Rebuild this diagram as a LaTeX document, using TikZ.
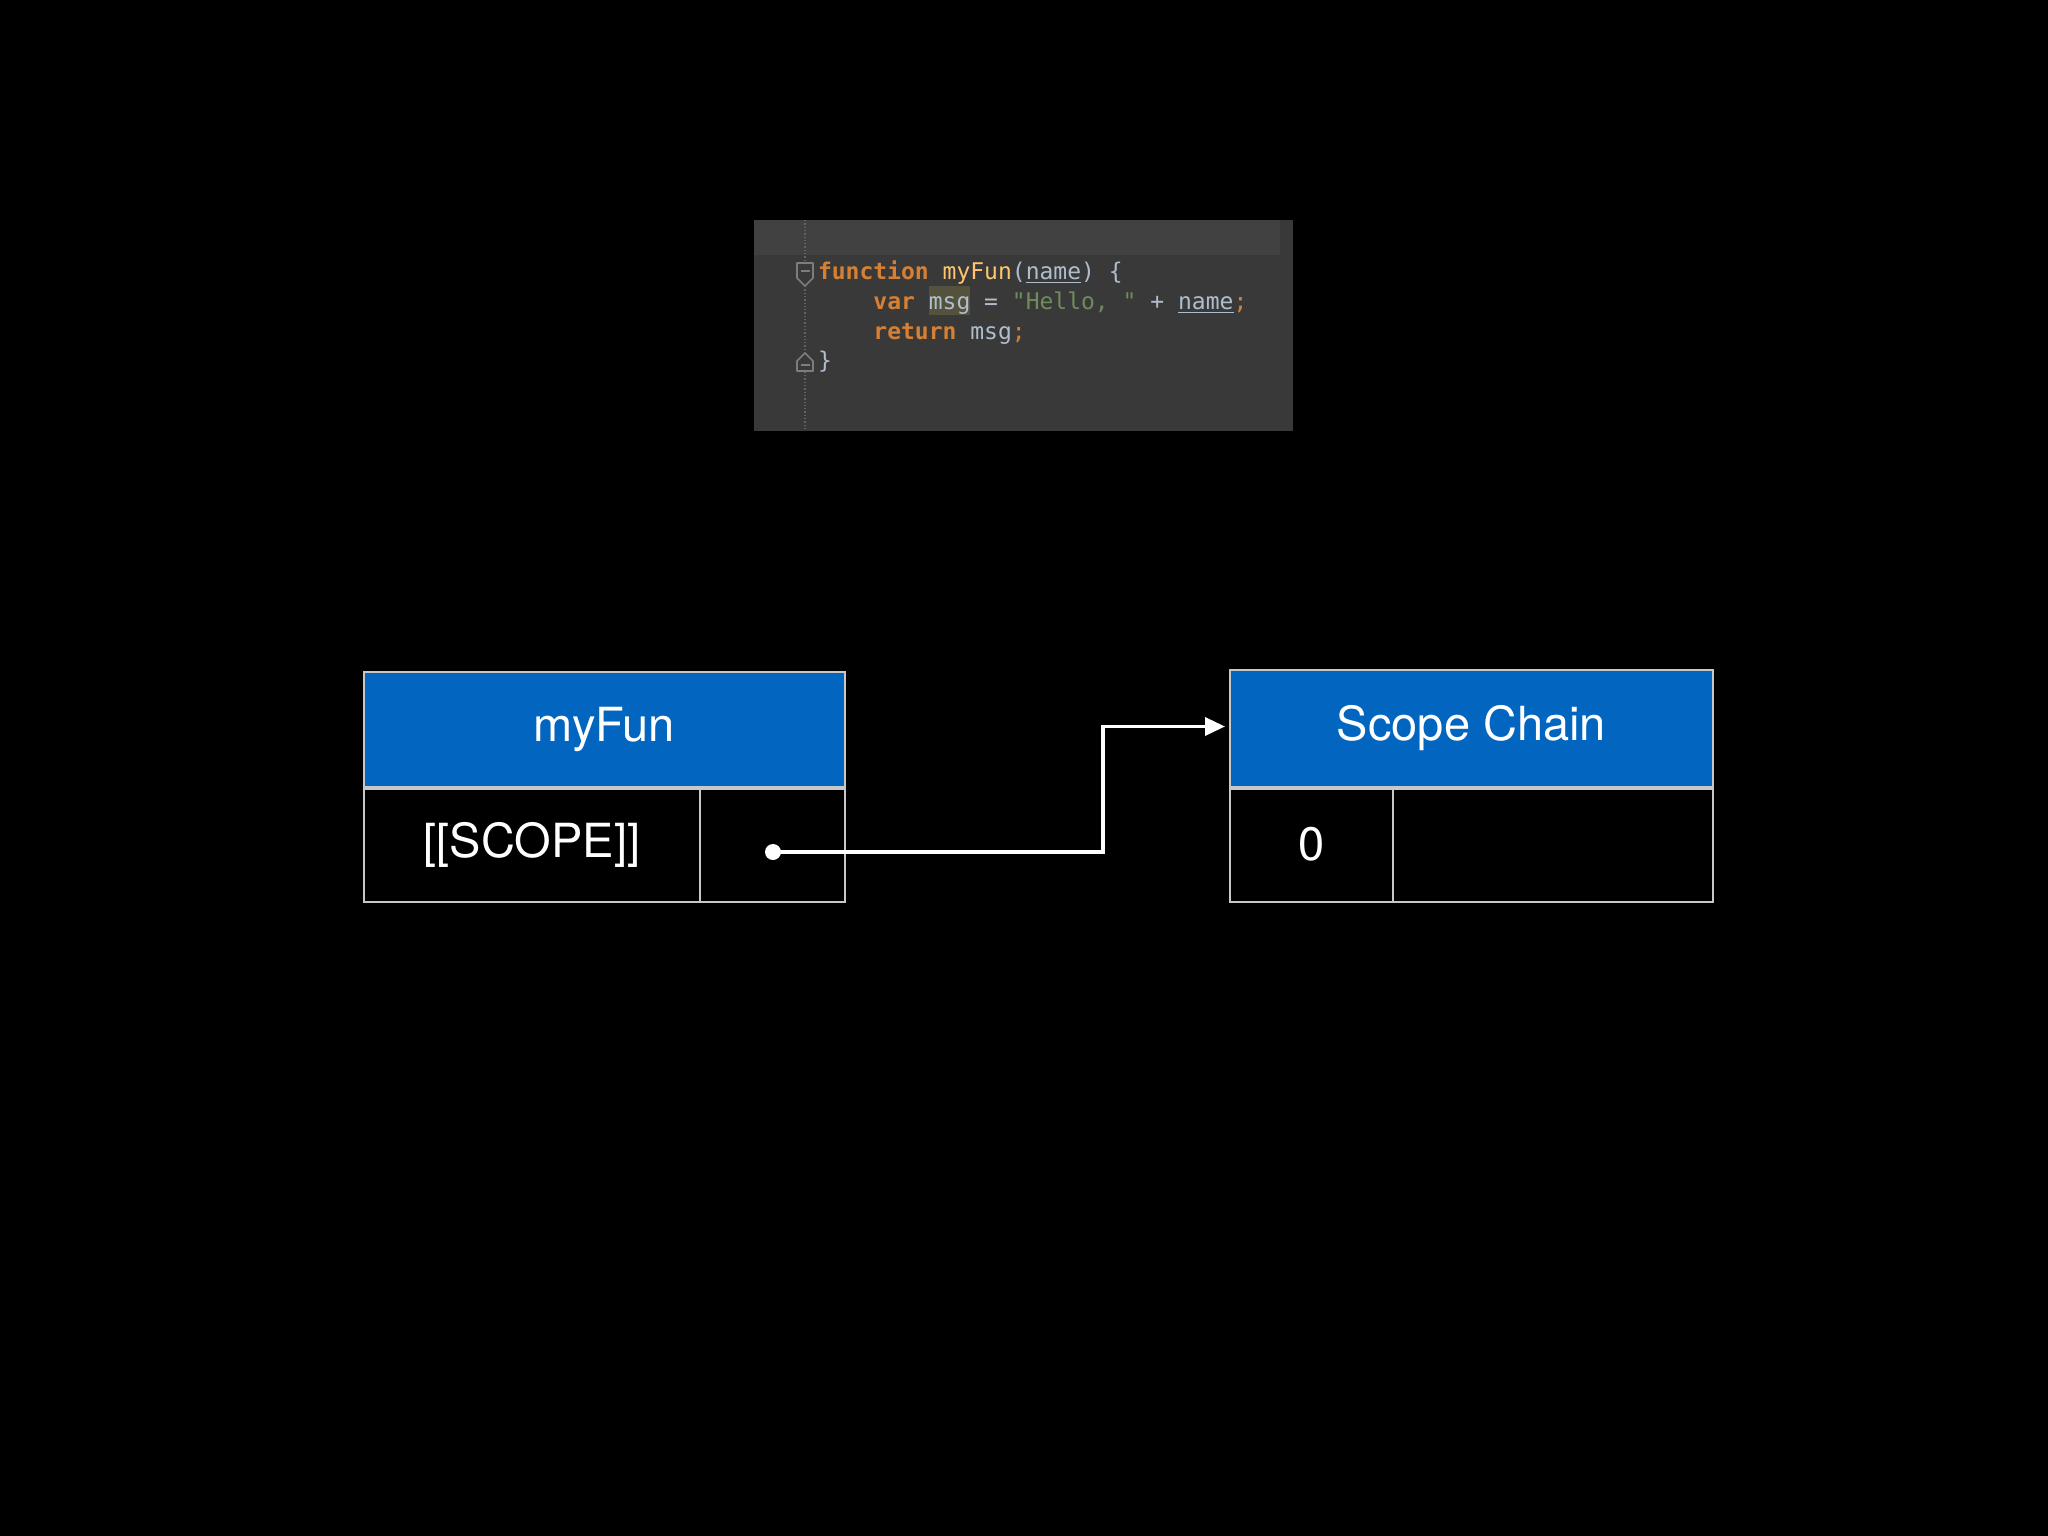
\documentclass[tikz,border=0pt]{standalone}
\usepackage{fontspec}
\setmainfont{TeX Gyre Heros}
\setmonofont{DejaVu Sans Mono}
\usetikzlibrary{arrows.meta}
\definecolor{hdrblue}{RGB}{2,102,192}
\definecolor{boxline}{RGB}{200,200,200}
\definecolor{codebg}{RGB}{57,57,58}
\definecolor{codetop}{RGB}{65,65,65}
\definecolor{gutterline}{RGB}{100,100,100}
\definecolor{foldgray}{RGB}{125,125,125}
\definecolor{kw}{RGB}{214,128,52}
\definecolor{fn}{RGB}{255,198,109}
\definecolor{plain}{RGB}{175,189,204}
\definecolor{str}{RGB}{110,140,92}
\definecolor{hl}{RGB}{84,82,60}
\tikzset{
  tok/.style={anchor=base west, inner sep=0pt, outer sep=0pt,
    font=\ttfamily\fontsize{23}{27}\selectfont},
  kwtok/.style={tok, text=kw, font=\ttfamily\bfseries\fontsize{23}{27}\selectfont},
  fntok/.style={tok, text=fn},
  pltok/.style={tok, text=plain},
  strtok/.style={tok, text=str},
  uline/.style={draw=plain, line width=1.6pt},
  fold/.style={draw=foldgray, line width=1.6pt, fill=codebg, line join=round},
  hdr/.style={fill=hdrblue, draw=boxline, line width=2pt, anchor=north west,
    inner sep=0pt, text=white, font=\fontsize{47}{56}\selectfont},
  cell/.style={fill=black, draw=boxline, line width=2pt, anchor=north west,
    inner sep=0pt, text=white, font=\fontsize{47}{56}\selectfont},
  sepline/.style={draw=boxline, line width=3.5pt},
  dotnode/.style={circle, fill=white, inner sep=0pt, minimum size=16pt},
  conn/.style={draw=white, line width=3.5pt, -{Triangle[length=20pt,width=18pt]}}
}
\begin{document}
\begin{tikzpicture}[x=1pt,y=-1pt]
\fill[black] (0,0) rectangle (2048,1536);
\useasboundingbox (0,0) rectangle (2048,1536);

% code panel
\fill[codebg] (754,220) rectangle (1293,431);
\fill[codetop] (754,220) rectangle (1280,255);
\draw[gutterline, dotted, line width=1.3pt] (805,220) -- (805,431);
% fold markers
\draw[fold] (797,263) -- (813,263) -- (813,278) -- (805,286) -- (797,278) -- cycle;
\draw[foldgray, line width=1.6pt] (800.5,271) -- (809.5,271);
\draw[fold] (797,371) -- (813,371) -- (813,361) -- (805,353) -- (797,361) -- cycle;
\draw[foldgray, line width=1.6pt] (800.5,365) -- (809.5,365);

% highlight behind msg
\fill[hl] ({818+8*13.85},286) rectangle ({818+11*13.85},315);

% line 1
\node[kwtok] (l1a) at ({818+0*13.85},279) {function};
\node[fntok] (l1b) at ({818+9*13.85},279) {myFun};
\node[pltok] (l1c) at ({818+14*13.85},279) {(};
\node[pltok] (l1d) at ({818+15*13.85},279) {name};
\node[pltok] (l1e) at ({818+19*13.85},279) {)};
\node[pltok] (l1f) at ({818+21*13.85},279) {\{};
\draw[uline] ([yshift=-3.5pt]l1d.base west) -- ([yshift=-3.5pt]l1d.base east);
% line 2
\node[kwtok] (l2a) at ({818+4*13.85},309) {var};
\node[pltok] (l2b) at ({818+8*13.85},309) {msg};
\node[pltok] (l2c) at ({818+12*13.85},309) {=};
\node[strtok] (l2d) at ({818+14*13.85},309) {"Hello, "};
\node[pltok] (l2e) at ({818+24*13.85},309) {+};
\node[pltok] (l2f) at ({818+26*13.85},309) {name};
\node[tok, text=kw] (l2g) at ({818+30*13.85},309) {;};
\draw[uline] ([yshift=-3.5pt]l2f.base west) -- ([yshift=-3.5pt]l2f.base east);
% line 3
\node[kwtok] (l3a) at ({818+4*13.85},339) {return};
\node[pltok] (l3b) at ({818+11*13.85},339) {msg};
\node[tok, text=kw] (l3c) at ({818+14*13.85},339) {;};
% line 4
\node[pltok] (l4a) at ({818+0*13.85},368) {\}};

% left object
\node[hdr, minimum width=481pt, minimum height=115pt] (lh) at (363,671) {myFun};
\node[cell, minimum width=336pt, minimum height=115pt] (lk) at (363,786) {[[SCOPE]]};
\node[cell, minimum width=145pt, minimum height=115pt] (lv) at (699,786) {};
\draw[sepline] (lh.south west) -- (lh.south east);

% right object
\node[hdr, minimum width=483pt, minimum height=117pt] (rh) at (1229,669) {Scope Chain};
\node[cell, minimum width=163pt, minimum height=115pt] (rk) at (1229,786) {0};
\node[cell, minimum width=320pt, minimum height=115pt] (rv) at (1392,786) {};
\draw[sepline] (rh.south west) -- (rh.south east);

% connector
\node[dotnode] (dot) at (773,852) {};
\coordinate (bend) at (1103,852);
\draw[conn] (dot.center) -- (bend) |- ([xshift=-4pt,yshift=2pt]rh.west);
\end{tikzpicture}
\end{document}
